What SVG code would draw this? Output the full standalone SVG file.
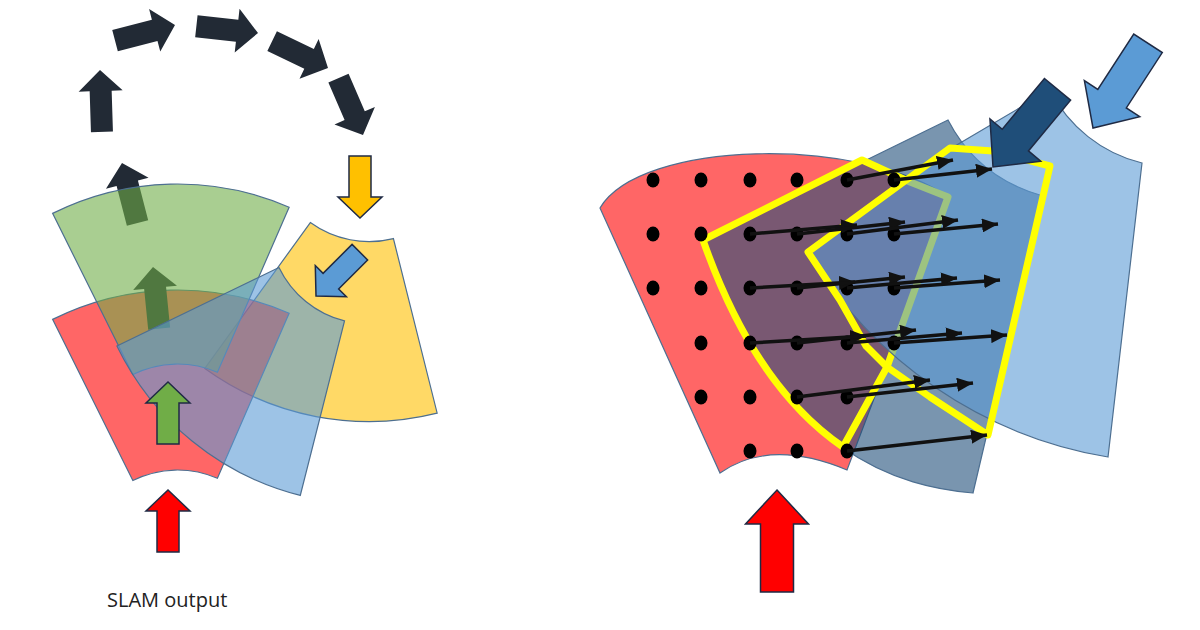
<svg xmlns="http://www.w3.org/2000/svg" width="1200" height="630" viewBox="0 0 1200 630">
<defs>
<style>
.sec{stroke:#4d6f91;stroke-width:1.2}
.red{fill:#FF0000;fill-opacity:.6}
.grn{fill:#70AD47;fill-opacity:.6}
.org{fill:#FFC000;fill-opacity:.6}
.blu{fill:#5B9BD5;fill-opacity:.6}
.slt{fill:#1F4E79;fill-opacity:.6}
.navy{fill:#222A35}
.arw{stroke:#1F2A44;stroke-width:1.5}
.dot{fill:#000}
.vec{stroke:#111;stroke-width:3.5;fill:none;marker-end:url(#ah)}
.yl{fill:none;stroke:#FFFF00;stroke-width:7;stroke-linejoin:round}
.lbl{font-family:"Open Sans","Liberation Sans",sans-serif;font-size:20px;fill:#222}
</style>
<path id="sector" d="M-118.3,-253.8 A280,280 0 0 1 118.3,-253.8 L42.3,-90.6 A100,100 0 0 0 -42.3,-90.6 Z"/>
<polygon id="arr" points="0,0 22,21 11,21 11,62 -11,62 -11,21 -22,21"/>
<polygon id="bigarr" points="0,0 33,35 17,35 17,101 -17,101 -17,35 -33,35"/>
<marker id="ah" markerUnits="userSpaceOnUse" markerWidth="18" markerHeight="14" refX="16" refY="7" orient="auto"><path d="M0,0 L16,7 L0,14 Z" fill="#111"/></marker>
</defs>
<rect width="1200" height="630" fill="#fff"/>

<!-- LEFT: SLAM output -->
<g id="left-orange-sector"><use href="#sector" class="sec org" transform="translate(369,141.6) rotate(190.9)"/></g>
<g id="left-red-sector"><use href="#sector" class="sec red" transform="translate(177.5,570) rotate(-1.5)"/></g>
<g id="loop-arrows-under">
<use href="#arr" class="navy" transform="translate(122,163) rotate(-14.5)"/>
<use href="#arr" class="navy" transform="translate(153,267) rotate(-5.7)"/>
</g>
<g id="left-green-sector"><use href="#sector" class="sec grn" transform="translate(177.5,464) rotate(-1.5)"/></g>
<g id="left-blue-sector"><use href="#sector" class="sec blu" transform="translate(369,224) rotate(219.2)"/></g>
<g id="loop-arrows">
<use href="#arr" class="navy" transform="translate(100,70) rotate(-1.8)"/>
<use href="#arr" class="navy" transform="translate(175,25) rotate(75.3)"/>
<use href="#arr" class="navy" transform="translate(258,33) rotate(96.3)"/>
<use href="#arr" class="navy" transform="translate(328,68) rotate(115.7)"/>
<use href="#arr" class="navy" transform="translate(363,135) rotate(156.7)"/>
</g>
<g id="left-orange-arrow"><use href="#arr" class="arw" fill="#FFC000" transform="translate(360,218) rotate(180)"/></g>
<g id="left-blue-arrow"><use href="#arr" class="arw" fill="#5B9BD5" transform="translate(316,296) rotate(225)"/></g>
<g id="left-green-arrow"><use href="#arr" class="arw" fill="#70AD47" transform="translate(168,382)"/></g>
<g id="left-red-arrow"><use href="#arr" class="arw" fill="#FF0000" transform="translate(168,490)"/></g>
<g id="label"><text class="lbl" x="107" y="607">SLAM output</text></g>

<!-- RIGHT: zoomed overlap -->
<g id="right-red-sector"><path class="sec red" d="M600,208 C640,140 860,135 950,198 L847,470 Q770,438 720,473 Z"/></g>
<g id="right-slate-sector"><path class="sec slt" d="M703,240 L948,120 Q978,178 1043,196 L973,493 C905,487 780,460 703,240 Z"/></g>
<g id="outer-yellow"><path class="yl" d="M703,240 L862,160 L910,182 L948,197 L887,367 L843,447 C792,412 741.5,350 703,240 Z"/></g>
<g id="right-blue-sector"><path class="sec blu" d="M808,252 L955,146 L1050,90 A140,140 0 0 0 1142,163 L1108,457 A432,432 0 0 1 808,252 Z"/></g>
<g id="inner-yellow"><path class="yl" d="M808,252 L950,148 L993,151 L1050,166 L988,435 L930,397 L887,367 L866,346 L840,300 Z"/></g>
<g id="dots">
<ellipse class="dot" cx="653" cy="180" rx="6.5" ry="7.5"/><ellipse class="dot" cx="701" cy="180" rx="6.5" ry="7.5"/><ellipse class="dot" cx="750" cy="180" rx="6.5" ry="7.5"/><ellipse class="dot" cx="797" cy="180" rx="6.5" ry="7.5"/><ellipse class="dot" cx="847" cy="180" rx="6.5" ry="7.5"/><ellipse class="dot" cx="894" cy="180" rx="6.5" ry="7.5"/>
<ellipse class="dot" cx="653" cy="234" rx="6.5" ry="7.5"/><ellipse class="dot" cx="701" cy="234" rx="6.5" ry="7.5"/><ellipse class="dot" cx="750" cy="234" rx="6.5" ry="7.5"/><ellipse class="dot" cx="797" cy="234" rx="6.5" ry="7.5"/><ellipse class="dot" cx="847" cy="234" rx="6.5" ry="7.5"/><ellipse class="dot" cx="894" cy="234" rx="6.5" ry="7.5"/>
<ellipse class="dot" cx="653" cy="288" rx="6.5" ry="7.5"/><ellipse class="dot" cx="701" cy="288" rx="6.5" ry="7.5"/><ellipse class="dot" cx="750" cy="288" rx="6.5" ry="7.5"/><ellipse class="dot" cx="797" cy="288" rx="6.5" ry="7.5"/><ellipse class="dot" cx="847" cy="288" rx="6.5" ry="7.5"/><ellipse class="dot" cx="894" cy="288" rx="6.5" ry="7.5"/>
<ellipse class="dot" cx="701" cy="343" rx="6.5" ry="7.5"/><ellipse class="dot" cx="750" cy="343" rx="6.5" ry="7.5"/><ellipse class="dot" cx="797" cy="343" rx="6.5" ry="7.5"/><ellipse class="dot" cx="847" cy="343" rx="6.5" ry="7.5"/><ellipse class="dot" cx="894" cy="343" rx="6.5" ry="7.5"/>
<ellipse class="dot" cx="701" cy="397" rx="6.5" ry="7.5"/><ellipse class="dot" cx="750" cy="397" rx="6.5" ry="7.5"/><ellipse class="dot" cx="797" cy="397" rx="6.5" ry="7.5"/><ellipse class="dot" cx="847" cy="397" rx="6.5" ry="7.5"/>
<ellipse class="dot" cx="750" cy="451" rx="6.5" ry="7.5"/><ellipse class="dot" cx="797" cy="451" rx="6.5" ry="7.5"/><ellipse class="dot" cx="847" cy="451" rx="6.5" ry="7.5"/>
</g>
<g id="vectors">
<line class="vec" x1="847" y1="180" x2="953" y2="160"/><line class="vec" x1="894" y1="180" x2="992" y2="169"/>
<line class="vec" x1="750" y1="234" x2="857" y2="225"/><line class="vec" x1="797" y1="234" x2="905" y2="222"/><line class="vec" x1="847" y1="234" x2="958" y2="220"/><line class="vec" x1="894" y1="234" x2="998" y2="224"/>
<line class="vec" x1="750" y1="288" x2="855" y2="282"/><line class="vec" x1="797" y1="288" x2="905" y2="277"/><line class="vec" x1="847" y1="288" x2="957" y2="278"/><line class="vec" x1="894" y1="288" x2="1000" y2="280"/>
<line class="vec" x1="750" y1="343" x2="866" y2="336"/><line class="vec" x1="797" y1="343" x2="916" y2="330"/><line class="vec" x1="847" y1="343" x2="962" y2="333"/><line class="vec" x1="894" y1="343" x2="1007" y2="335"/>
<line class="vec" x1="797" y1="397" x2="930" y2="380"/><line class="vec" x1="847" y1="397" x2="973" y2="383"/>
<line class="vec" x1="847" y1="451" x2="987" y2="435"/>
</g>
<g id="right-dark-arrow"><use href="#bigarr" class="arw" fill="#1F4E79" transform="translate(993,167) rotate(219.7)"/></g>
<g id="right-light-arrow"><use href="#bigarr" class="arw" fill="#5B9BD5" transform="translate(1093,128) rotate(213)"/></g>
<g id="right-red-arrow"><polygon class="arw" fill="#FF0000" transform="translate(777,490)" points="0,0 31.5,34 16.5,34 16.5,102 -16.5,102 -16.5,34 -31.5,34"/></g>
</svg>
